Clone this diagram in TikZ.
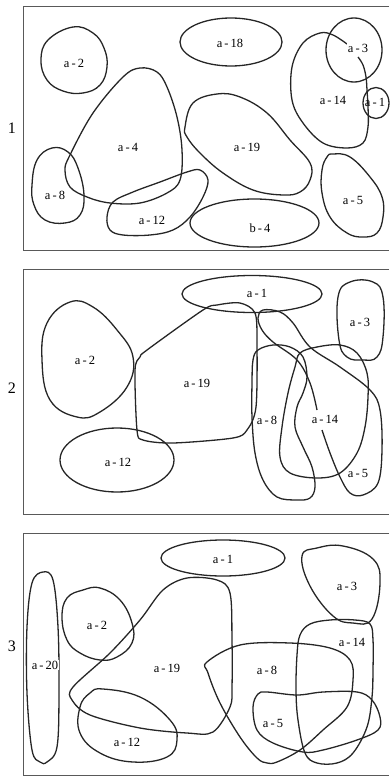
\documentclass[tikz,border=0pt]{standalone}
\usepackage{fontspec}
\newfontfamily\lblfont{Liberation Serif}
\begin{document}
\begin{tikzpicture}[x=1pt,y=-1pt,
  blob/.style={line width=1.3pt, black!85, line join=round},
  frm/.style={line width=1pt, black!65},
  lbl/.style={fill=white, inner sep=0.6pt, font=\lblfont\fontsize{12.5}{14}\selectfont},
  num/.style={font=\lblfont\fontsize{16}{18}\selectfont}]
\useasboundingbox (0,0) rectangle (389,776);
% frames
\draw[frm] (389,7) -- (23,7) -- (23,250) -- (389,250);
\draw[frm] (389,269) -- (23,269) -- (23,514) -- (389,514);
\draw[frm] (389,533) -- (23,533) -- (23,775) -- (389,775);
\node[num] (n1) at (12,128) {1};
\node[num] (n2) at (12,388) {2};
\node[num] (n3) at (12,646) {3};

% ---------- panel 1 ----------
\draw[blob] plot[smooth cycle,tension=0.7] coordinates {(73,27) (93,33) (104,48) (107,67) (100,85) (83,93) (63,91) (47,80) (41,60) (48,40)};
\draw[blob] (231,42) ellipse [x radius=51, y radius=24];
\draw[blob] plot[smooth cycle,tension=0.6] coordinates {(140,68) (157,72) (167,87) (177,117) (182,150) (180,180) (167,193) (140,203) (110,203) (87,197) (70,187) (65,170) (70,155) (93,113) (123,77)};
\draw[blob] plot[smooth cycle,tension=0.7] coordinates {(52,148) (68,152) (78,168) (84,195) (80,215) (65,223) (45,220) (34,205) (32,185) (37,160)};
\draw[blob] plot[smooth cycle,tension=0.6] coordinates {(200,170) (208,180) (203,197) (190,217) (173,230) (150,235) (123,235) (110,230) (107,217) (113,202) (133,192) (160,182) (187,172)};
\draw[blob] (254.5,223) ellipse [x radius=64.5, y radius=24];
\draw[blob] plot[smooth cycle,tension=0.65] coordinates {(185,127) (193,103) (217,94) (240,97) (267,113) (290,140) (310,163) (310,180) (300,192) (283,195) (253,190) (223,173) (200,153) (187,137)};
\draw[blob] plot[smooth,tension=0.6] coordinates {(347,44) (333,35) (320,33) (303,43) (292,67) (292,100) (303,123) (323,143) (347,148) (363,143) (368,127) (368,107) (367,90) (366,77) (363,65) (358,57)};
\draw[blob] (354,50) ellipse [x radius=28, y radius=32];
\draw[blob] (376,103) ellipse [x radius=13, y radius=15.5];
\draw[blob] plot[smooth cycle,tension=0.7] coordinates {(333,154) (350,157) (370,177) (382,197) (383,217) (377,233) (363,237) (347,233) (330,217) (322,193) (322,170) (327,157)};
\node[lbl] (p1a2) at (74,63) {a\,-\,2};
\node[lbl] (p1a18) at (230,43) {a\,-\,18};
\node[lbl] (p1a4) at (128,147) {a\,-\,4};
\node[lbl] (p1a8) at (55,195) {a\,-\,8};
\node[lbl] (p1a12) at (152,220) {a\,-\,12};
\node[lbl] (p1b4) at (260,228) {b\,-\,4};
\node[lbl] (p1a19) at (247,147) {a\,-\,19};
\node[lbl] (p1a14) at (333,100) {a\,-\,14};
\node[lbl] (p1a3) at (358,48) {a\,-\,3};
\node[lbl,fill=none] (p1a1) at (375,102) {a\,-\,1};
\node[lbl] (p1a5) at (353,200) {a\,-\,5};

% ---------- panel 2 ----------
\draw[blob] (252,294) ellipse [x radius=70, y radius=18.5];
\draw[blob] plot[smooth cycle,tension=0.7] coordinates {(350,282) (373,282) (383,297) (383,337) (377,357) (363,360) (347,357) (339,340) (338,297)};
\draw[blob] plot[smooth cycle,tension=0.7] coordinates {(70,302) (93,307) (117,330) (133,357) (127,387) (100,412) (77,417) (50,400) (42,360) (47,323)};
\draw[blob] plot[smooth cycle,tension=0.5] coordinates {(203,310) (217,305) (240,303) (255,313) (257,343) (256,407) (247,430) (233,438) (173,443) (143,440) (137,430) (135,370) (140,357) (147,350)};
\draw[blob] (117,460) ellipse [x radius=57, y radius=32];
\draw[blob] plot[smooth cycle,tension=0.6] coordinates {(258,350) (273,345) (290,347) (303,357) (307,377) (303,393) (297,407) (295,427) (303,447) (312,467) (315,487) (310,498) (297,500) (277,497) (263,480) (255,453) (252,417) (252,383) (253,360)};
\draw[blob] plot[smooth cycle,tension=0.6] coordinates {(300,353) (317,347) (340,345) (357,353) (367,373) (368,397) (365,427) (357,453) (340,473) (317,478) (290,473) (280,457) (282,427) (288,393) (295,367)};
\draw[blob] plot[smooth,tension=0.6] coordinates {(322,430) (330,453) (340,477) (350,493) (363,495) (378,483) (382,450) (380,410) (370,390) (340,367) (310,347) (293,323) (280,312) (263,310) (258,318) (262,330) (273,342) (297,360) (310,383) (317,410)};
\node[lbl] (p2a1) at (257,293) {a\,-\,1};
\node[lbl] (p2a3) at (360,322) {a\,-\,3};
\node[lbl] (p2a2) at (85,360) {a\,-\,2};
\node[lbl] (p2a19) at (197,383) {a\,-\,19};
\node[lbl] (p2a12) at (118,462) {a\,-\,12};
\node[lbl] (p2a8) at (267,420) {a\,-\,8};
\node[lbl] (p2a14) at (325,419) {a\,-\,14};
\node[lbl] (p2a5) at (358,473) {a\,-\,5};

% ---------- panel 3 ----------
\draw[blob] plot[smooth cycle,tension=0.6] coordinates {(43,572) (53,580) (58,627) (59,693) (57,747) (47,762) (40,762) (32,750) (27,693) (27,627) (32,583)};
\draw[blob] plot[smooth cycle,tension=0.7] coordinates {(100,588) (120,600) (132,623) (132,643) (117,657) (100,660) (80,653) (67,640) (62,617) (67,598) (83,590)};
\draw[blob] plot[smooth cycle,tension=0.55] coordinates {(187,578) (217,580) (230,593) (232,640) (232,687) (230,707) (213,732) (187,733) (140,728) (90,715) (72,700) (73,687) (110,653) (140,620) (163,590)};
\draw[blob] plot[smooth cycle,tension=0.7] coordinates {(103,689) (140,697) (170,720) (177,740) (167,757) (133,762) (100,753) (80,733) (80,707) (90,693)};
\draw[blob] (223,558) ellipse [x radius=62, y radius=18];
\draw[blob] plot[smooth cycle,tension=0.7] coordinates {(317,548) (343,546) (373,559) (380,583) (372,619) (353,623) (333,616) (310,586) (302,556)};
\draw[blob] plot[smooth cycle,tension=0.6] coordinates {(300,635) (310,624) (330,620) (355,620) (370,624) (373,640) (373,670) (372,697) (367,727) (353,753) (337,763) (317,763) (305,753) (298,720) (296,690) (297,655)};
\draw[blob] plot[smooth cycle,tension=0.6] coordinates {(207,662) (240,645) (290,643) (330,648) (350,660) (353,680) (347,707) (323,730) (300,750) (277,762) (267,763) (257,758) (240,737) (220,703) (208,673)};
\draw[blob] plot[smooth cycle,tension=0.6] coordinates {(253,707) (258,694) (267,692) (297,695) (323,692) (357,692) (372,700) (380,717) (378,730) (357,740) (323,750) (303,752) (273,743) (257,730)};
\node[lbl] (p3a20) at (45,665) {a\,-\,20};
\node[lbl] (p3a2) at (97,625) {a\,-\,2};
\node[lbl] (p3a19) at (167,668) {a\,-\,19};
\node[lbl] (p3a12) at (127,742) {a\,-\,12};
\node[lbl] (p3a1) at (223,559) {a\,-\,1};
\node[lbl] (p3a3) at (347,586) {a\,-\,3};
\node[lbl] (p3a14) at (352,642) {a\,-\,14};
\node[lbl] (p3a8) at (267,670) {a\,-\,8};
\node[lbl] (p3a5) at (273,723) {a\,-\,5};
\end{tikzpicture}
\end{document}
